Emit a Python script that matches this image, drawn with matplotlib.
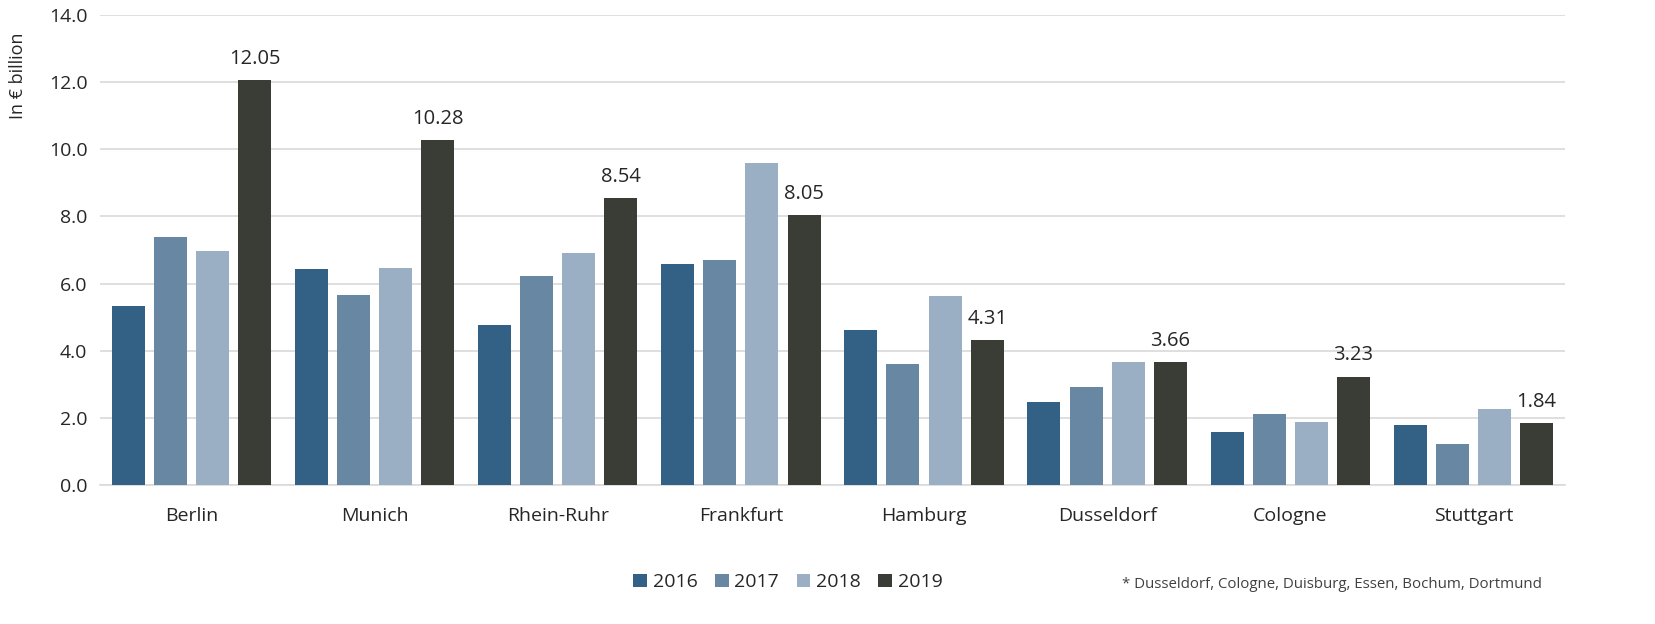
import matplotlib.pyplot as plt
import numpy as np

# data
cities = ['Berlin', 'Munich', 'Rhein-Ruhr', 'Frankfurt', 'Hamburg',
          'Dusseldorf', 'Cologne', 'Stuttgart']
years = ['2016', '2017', '2018', '2019']
v2016 = [5.33, 6.43, 4.77, 6.58, 4.62, 2.47, 1.58, 1.79]
v2017 = [7.39, 5.66, 6.23, 6.70, 3.60, 2.92, 2.12, 1.22]
v2018 = [6.97, 6.46, 6.91, 9.59, 5.63, 3.66, 1.88, 2.26]
v2019 = [12.05, 10.28, 8.54, 8.05, 4.31, 3.66, 3.23, 1.84]

colors = ['#336186', '#6787A2', '#9AAFC3', '#3A3C36']
series = [v2016, v2017, v2018, v2019]

plt.rcParams['font.family'] = ['Open Sans', 'DejaVu Sans']

fig = plt.figure(figsize=(16.55, 6.24), dpi=100)
ax = fig.add_axes([0.0604, 0.2228, 0.8852, 0.7532])

x = np.arange(len(cities))
width = 0.18
pitch = 0.23
for i, (vals, c, yr) in enumerate(zip(series, colors, years)):
    ax.bar(x + (i - 1.5) * pitch, vals, width, color=c, label=yr, zorder=3)

# labels above the 2019 bars
for xi, v in zip(x, v2019):
    ax.text(xi + 1.5 * pitch, v + 0.33, f'{v:.2f}', ha='center', va='bottom',
            fontsize=14.5, color='#262626')

ax.set_xlim(-0.5, len(cities) - 0.5)
ax.set_ylim(0, 14)
ax.set_yticks(np.arange(0, 14.1, 2))
ax.set_yticklabels([f'{t:.1f}' for t in np.arange(0, 14.1, 2)])
ax.set_xticks(x)
ax.set_xticklabels(cities)
ax.tick_params(axis='both', length=0, labelsize=14, colors='#262626')
ax.tick_params(axis='x', pad=16)
ax.tick_params(axis='y', pad=9)
ax.yaxis.grid(True, color='#d9d9d9', linewidth=1.2, zorder=0)
for s in ['top', 'right', 'left']:
    ax.spines[s].set_visible(False)
ax.spines['bottom'].set_color('#d9d9d9')
ax.spines['bottom'].set_linewidth(1.2)
ax.set_ylabel('In € billion', fontsize=13, color='#262626')
ax.yaxis.set_label_coords(-0.05, 0.87)

fig.legend(loc='center', bbox_to_anchor=(0.476, 0.067), ncol=4, frameon=False,
           fontsize=14, handlelength=0.7, handleheight=0.7,
           handletextpad=0.3, columnspacing=0.9, labelcolor='#262626')

fig.text(0.678, 0.075, '* Dusseldorf, Cologne, Duisburg, Essen, Bochum, Dortmund',
         fontsize=10.8, color='#404040', va='top')

fig.savefig('out.png', dpi=100)
